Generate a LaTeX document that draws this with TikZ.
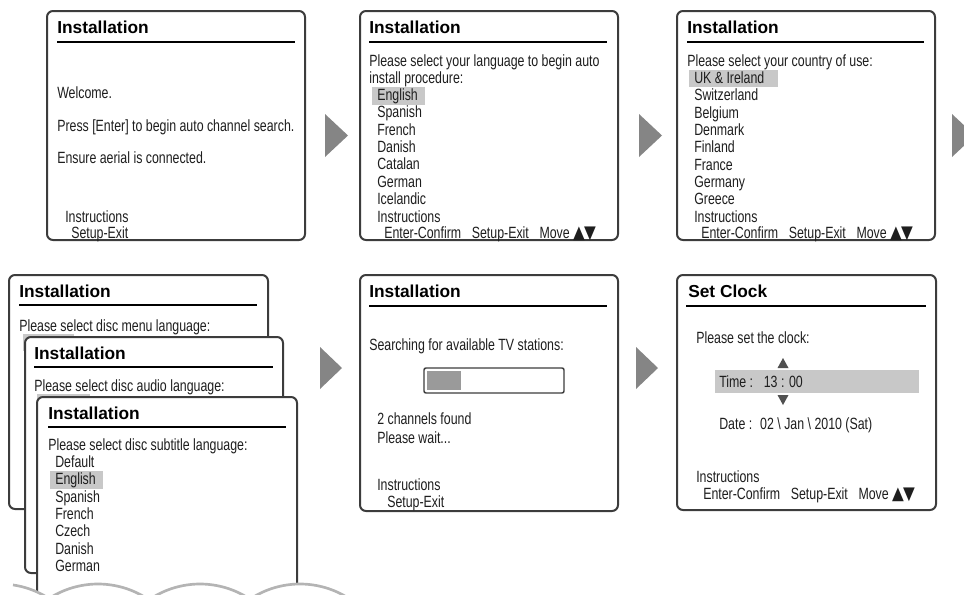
\documentclass[tikz,border=0pt]{standalone}
\usepackage{fontspec}
\setmainfont{Liberation Sans}
\newfontfamily\bodyfont[FakeStretch=0.76]{Liberation Sans}
\newfontfamily\trifont[FakeStretch=0.85]{DejaVu Sans}
\newcommand\updowntri{{\trifont\fontsize{13.5}{14}\selectfont ▲\kern-0.6pt▼}}
\definecolor{bordercol}{HTML}{3C3C3C}
\definecolor{textcol}{HTML}{1E1E1E}
\definecolor{hlgray}{HTML}{C8C8C8}
\definecolor{arrowgray}{HTML}{858585}
\definecolor{clockarrow}{HTML}{505050}
\definecolor{progfill}{HTML}{9A9A9A}
\definecolor{wavegray}{HTML}{B4B4B4}
\tikzset{
  panel/.style={draw=bordercol, line width=1.5pt, fill=white, rounded corners=4.5pt},
  panelline/.style={draw=bordercol, line width=1.5pt, rounded corners=4.5pt},
  ttl/.style={anchor=base west, inner sep=0pt, font=\fontsize{13}{15}\selectfont\bfseries, text=black},
  txt/.style={anchor=base west, inner sep=0pt, font=\bodyfont\fontsize{12.2}{14}\selectfont, text=textcol},
  titlerule/.style={line width=2pt, draw=black},
  hl/.style={fill=hlgray},
  nextarrow/.style={fill=arrowgray},
  clocktri/.style={fill=clockarrow},
  progbox/.style={draw=bordercol, line width=1.1pt, rounded corners=1.5pt},
  wave/.style={draw=wavegray, line width=2pt}
}
\begin{document}
\begin{tikzpicture}[x=0.75pt,y=-0.75pt]
\useasboundingbox (0,0) rectangle (964,594);

% ---------- Panel 1 ----------
\draw[panel] (47,11) rectangle (305,240);
\node[ttl] (p1title) at (57,33) {Installation};
\draw[titlerule] (57,42) -- (295,42);
\node[txt] (p1welcome) at (57,98) {Welcome.};
\node[txt] (p1press) at (57,131) {Press [Enter] to begin auto channel search.};
\node[txt] (p1ensure) at (57,163) {Ensure aerial is connected.};
\node[txt] (p1instr) at (65,222) {Instructions};
\node[txt] (p1keys) at (71,238) {Setup-Exit};

\fill[nextarrow] (325,114) -- (325,157) -- (348,135.5) -- cycle;

% ---------- Panel 2 ----------
\draw[panel] (360,11) rectangle (618,240);
\node[ttl] (p2title) at (369,33) {Installation};
\draw[titlerule] (369,42) -- (607,42);
\node[txt] (p2q1) at (369,66.5) {Please select your language to begin auto};
\node[txt] (p2q2) at (369,83.5) {install procedure:};
\fill[hl] (372,87) rectangle (425,104.5);
\node[txt] (p2a) at (377,100.5) {English};
\node[txt] (p2b) at (377,117.8) {Spanish};
\node[txt] (p2c) at (377,135.1) {French};
\node[txt] (p2d) at (377,152.4) {Danish};
\node[txt] (p2e) at (377,169.7) {Catalan};
\node[txt] (p2f) at (377,187) {German};
\node[txt] (p2g) at (377,204.3) {Icelandic};
\node[txt] (p2instr) at (377,222) {Instructions};
\node[txt] (p2keys) at (384,238) {Enter-Confirm\hspace{8pt}Setup-Exit\hspace{8pt}Move \updowntri};

\fill[nextarrow] (639,114) -- (639,157) -- (662,135.5) -- cycle;

% ---------- Panel 3 ----------
\draw[panel] (677,11) rectangle (935,240);
\node[ttl] (p3title) at (687,33) {Installation};
\draw[titlerule] (687,42) -- (924,42);
\node[txt] (p3q) at (687,66.5) {Please select your country of use:};
\fill[hl] (689,69.5) rectangle (778,87);
\node[txt] (p3a) at (694,83.5) {UK \& Ireland};
\node[txt] (p3b) at (694,100.8) {Switzerland};
\node[txt] (p3c) at (694,118.1) {Belgium};
\node[txt] (p3d) at (694,135.4) {Denmark};
\node[txt] (p3e) at (694,152.7) {Finland};
\node[txt] (p3f) at (694,170) {France};
\node[txt] (p3g) at (694,187.3) {Germany};
\node[txt] (p3h) at (694,204.6) {Greece};
\node[txt] (p3instr) at (694,222) {Instructions};
\node[txt] (p3keys) at (701,238) {Enter-Confirm\hspace{8pt}Setup-Exit\hspace{8pt}Move \updowntri};

\fill[nextarrow] (952,114) -- (952,157) -- (975,135.5) -- cycle;

% ---------- Stacked panels (bottom left) ----------
\draw[panel] (9,275) rectangle (268,509);
\node[ttl] (patitle) at (19,297) {Installation};
\draw[titlerule] (19,305) -- (257,305);
\node[txt] (paq) at (19,331) {Please select disc menu language:};
\fill[hl] (23,334) rectangle (74,351);

\draw[panel] (25,337) rectangle (283,573);
\node[ttl] (pbtitle) at (34,359) {Installation};
\draw[titlerule] (34,367) -- (273,367);
\node[txt] (pbq) at (34,391) {Please select disc audio language:};
\fill[hl] (37,394) rectangle (90,411);

\fill[white, rounded corners=4.5pt] (37,594) -- (37,397) -- (297,397) -- (297,594) -- cycle;
\draw[panelline] (37,591) -- (37,397) -- (297,397) -- (297,584);
\node[ttl] (pctitle) at (48,419) {Installation};
\draw[titlerule] (48,427) -- (286,427);
\node[txt] (pcq) at (48,450.5) {Please select disc subtitle language:};
\node[txt] (pca) at (55,467.5) {Default};
\fill[hl] (50,471) rectangle (103,488.5);
\node[txt] (pcb) at (55,484.8) {English};
\node[txt] (pcc) at (55,502.1) {Spanish};
\node[txt] (pcd) at (55,519.4) {French};
\node[txt] (pce) at (55,536.7) {Czech};
\node[txt] (pcf) at (55,554) {Danish};
\node[txt] (pcg) at (55,571.3) {German};

\foreach \pk/\pa/\pb in {0/13/45, 98/53/143, 200/155/245, 300/255/345}
  \draw[wave] plot[domain=\pa:\pb, samples=40] (\x, {674 - sqrt(8100-(\x-\pk)^2)});

\fill[nextarrow] (320,347) -- (320,389) -- (342,368) -- cycle;

% ---------- Panel 5 ----------
\draw[panel] (360,275) rectangle (618,511);
\node[ttl] (p5title) at (369,297) {Installation};
\draw[titlerule] (369,306) -- (607,306);
\node[txt] (p5q) at (369,350.5) {Searching for available TV stations:};
\draw[progbox] (424,368) rectangle (564,393);
\fill[progfill] (427,371) rectangle (461,390);
\node[txt] (p5found) at (377,424.5) {2 channels found};
\node[txt] (p5wait) at (377,443.5) {Please wait...};
\node[txt] (p5instr) at (377,490.5) {Instructions};
\node[txt] (p5keys) at (387,507) {Setup-Exit};

\fill[nextarrow] (636,347) -- (636,389) -- (658,368) -- cycle;

% ---------- Panel 6 ----------
\draw[panel] (677,275) rectangle (936,510);
\node[ttl] (p6title) at (688,297) {Set Clock};
\draw[titlerule] (686,306) -- (926,306);
\node[txt] (p6q) at (696,343.5) {Please set the clock:};
\fill[clocktri] (777.5,368) -- (788.5,368) -- (783,358) -- cycle;
\fill[hl] (715,370) rectangle (919,393);
\node[txt] (p6time) at (719,387.5) {Time :\hspace{8pt}13 : 00};
\fill[clocktri] (777.5,395) -- (788.5,395) -- (783,405) -- cycle;
\node[txt] (p6date) at (719,429.5) {Date :\hspace{6pt}02 \textbackslash{} Jan \textbackslash{} 2010 (Sat)};
\node[txt] (p6instr) at (696,482.5) {Instructions};
\node[txt] (p6keys) at (703,499.5) {Enter-Confirm\hspace{8pt}Setup-Exit\hspace{8pt}Move \updowntri};
\end{tikzpicture}
\end{document}
